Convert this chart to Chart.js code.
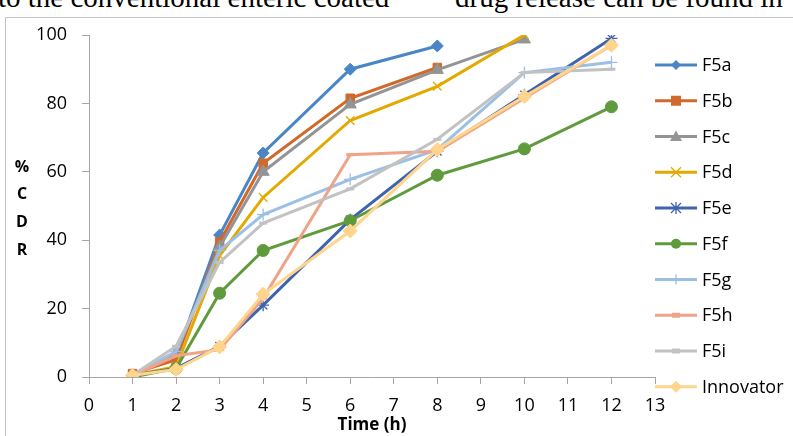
<!DOCTYPE html>
<html><head><meta charset="utf-8">
<script src="https://cdn.jsdelivr.net/npm/chart.js@4.4.1/dist/chart.umd.min.js"></script>
<style>
html,body{margin:0;padding:0;background:#fff;overflow:hidden;width:793px;height:436px;}
#wrap{position:relative;width:793px;height:436px;overflow:hidden;}
#frame{position:absolute;left:5px;top:17px;width:820px;height:460px;border:1px solid #c4c4c4;box-sizing:border-box;}
.t{position:absolute;top:-17px;font-family:"Liberation Serif","Times New Roman",serif;font-size:29px;line-height:29px;white-space:nowrap;color:#000;}
#c{position:absolute;left:0;top:0;}
</style></head>
<body><div id="wrap">
<div class="t" style="left:-2px">to the conventional enteric coated</div>
<div class="t" style="left:455px">drug release can be found in</div>
<div id="frame"></div>
<canvas id="c" width="793" height="436"></canvas>
</div>
<script>
const time = [1, 2, 3, 4, 6, 8, 10, 12];
const F5a = [0.5, 6, 41.5, 65.5, 90, 96.8, null, null];
const F5b = [1, 5, 39.5, 62.5, 81.5, 90.5, null, null];
const F5c = [0.5, 7, 38, 60, 79.7, 89.8, 98.7, null];
const F5d = [0.5, 3, 35.5, 52.5, 75, 85, 100, null];
const F5e = [0.5, 2.5, 9, 21, 46, 66, 82.5, 99];
const F5f = [0, 2.5, 24.5, 37, 45.7, 59, 66.7, 79];
const F5g = [0.5, 7.5, 37, 47.5, 57.8, 66.5, 89, 92];
const F5h = [0.5, 6.2, 8, 23, 65, 66, 81.5, 97];
const F5i = [0.5, 9, 33.5, 45, 55, 69.5, 89, 90];
const Innovator = [0.5, 2.2, 8.8, 24.2, 42.7, 66.5, 82, 97];
const seriesNames = ['F5a','F5b','F5c','F5d','F5e','F5f','F5g','F5h','F5i','Innovator'];
const seriesValues = [F5a,F5b,F5c,F5d,F5e,F5f,F5g,F5h,F5i,Innovator];
const xTicks = [0,1,2,3,4,5,6,7,8,9,10,11,12,13];
const yTicks = [0,20,40,60,80,100];
const yTitleLetters = ['%','C','D','R'];
const xTitle = 'Time (h)';

const styles = [
  {color:'#4A86C5', shape:'diamond', r:6},
  {color:'#D0692B', shape:'square', r:6},
  {color:'#949494', shape:'triangle', r:7},
  {color:'#E2A900', shape:'x', r:6},
  {color:'#3F63AD', shape:'star', r:6},
  {color:'#5F9A3D', shape:'circle', r:6},
  {color:'#9CBFE5', shape:'plus', r:6},
  {color:'#EFA487', shape:'dash', r:5},
  {color:'#C2C2C2', shape:'dash', r:5},
  {color:'#FFD48C', shape:'diamond', r:7}
];
const styleMap = {diamond:'rectRot', square:'rect', triangle:'triangle', x:'crossRot', star:'star', circle:'circle', plus:'cross', dash:'line'};

function drawMarker(ctx, shape, x, y, r, color){
  ctx.save();
  ctx.fillStyle = color; ctx.strokeStyle = color;
  ctx.beginPath();
  if (shape==='diamond'){ ctx.moveTo(x-r,y); ctx.lineTo(x,y-r); ctx.lineTo(x+r,y); ctx.lineTo(x,y+r); ctx.closePath(); ctx.fill(); }
  else if (shape==='square'){ ctx.rect(x-r,y-r,2*r,2*r); ctx.fill(); }
  else if (shape==='triangle'){ ctx.moveTo(x,y-r); ctx.lineTo(x+r,y+r*0.75); ctx.lineTo(x-r,y+r*0.75); ctx.closePath(); ctx.fill(); }
  else if (shape==='x'){ ctx.lineWidth=1.3; ctx.moveTo(x-r,y-r); ctx.lineTo(x+r,y+r); ctx.moveTo(x+r,y-r); ctx.lineTo(x-r,y+r); ctx.stroke(); }
  else if (shape==='star'){ ctx.lineWidth=1.3; ctx.moveTo(x-r,y-r); ctx.lineTo(x+r,y+r); ctx.moveTo(x+r,y-r); ctx.lineTo(x-r,y+r); ctx.moveTo(x,y-r*1.2); ctx.lineTo(x,y+r*1.2); ctx.stroke(); }
  else if (shape==='circle'){ ctx.arc(x,y,r,0,Math.PI*2); ctx.fill(); }
  else if (shape==='plus'){ ctx.lineWidth=1.3; ctx.moveTo(x,y-r); ctx.lineTo(x,y+r); ctx.stroke(); }
  else if (shape==='dash'){ ctx.lineWidth=5; ctx.moveTo(x-r,y); ctx.lineTo(x+r,y); ctx.stroke(); }
  ctx.restore();
}

const FONT = '"Open Sans", "Liberation Sans", sans-serif';
const datasets = seriesNames.map((n,i)=>{
  const pts = [];
  time.forEach((t,j)=>{ if (seriesValues[i][j] !== null) pts.push({x:t, y:seriesValues[i][j]}); });
  return {
    label:n,
    data: pts,
    borderColor: styles[i].color,
    backgroundColor: styles[i].color,
    borderWidth: 3,
    pointStyle: styleMap[styles[i].shape],
    pointRadius: styles[i].shape==='dash' ? 4 : styles[i].r,
    pointBorderWidth: (['x','star','plus'].includes(styles[i].shape)) ? 1.3 : (styles[i].shape==='dash' ? 3 : 1),
    pointBackgroundColor: styles[i].color,
    pointBorderColor: styles[i].color,
    pointHoverRadius: styles[i].r,
    tension: 0,
    order: 20 - i
  };
});

const legendPlugin = {
  id:'customLegend',
  afterDraw(chart){
    const ctx = chart.ctx;
    const x0 = 655, x1 = 697, tx = 702, y0 = 65, dy = 35.75;
    ctx.save();
    seriesNames.forEach((n,i)=>{
      const y = y0 + i*dy;
      ctx.strokeStyle = styles[i].color; ctx.lineWidth = 3;
      ctx.beginPath(); ctx.moveTo(x0,y); ctx.lineTo(x1,y); ctx.stroke();
      drawMarker(ctx, styles[i].shape, (x0+x1)/2, y, styles[i].shape==='dash'?4:styles[i].r-1, styles[i].color);
      ctx.fillStyle = '#000'; ctx.font = '18px ' + FONT; ctx.textBaseline = 'middle'; ctx.textAlign = 'left';
      ctx.fillText(n, tx, y+1);
    });
    ctx.font = 'bold 16px ' + FONT; ctx.textAlign = 'center'; ctx.fillStyle = '#000';
    yTitleLetters.forEach((l,i)=>{ ctx.fillText(l, 22, 167 + i*27.8); });
    ctx.restore();
  }
};

new Chart(document.getElementById('c'), {
  type:'line',
  data:{datasets},
  options:{
    responsive:false,
    animation:false,
    devicePixelRatio:1,
    layout:{padding:{left:0, top:35, right:138, bottom:0}},
    plugins:{legend:{display:false}, tooltip:{enabled:false}},
    scales:{
      x:{
        type:'linear', min:0, max:13,
        afterBuildTicks(s){ s.ticks = xTicks.map(v=>({value:v})); },
        afterFit(s){ s.height = 59; },
        ticks:{color:'#000', font:{family:FONT, size:18}, padding:11, autoSkip:false, maxRotation:0},
        grid:{display:true, drawOnChartArea:false, drawTicks:true, tickLength:7, color:'#a6a6a6', lineWidth:1},
        border:{display:true, color:'#a6a6a6', width:1},
        title:{display:true, text:xTitle, color:'#000', font:{family:FONT, size:17, weight:'bold'}, padding:{top:0,bottom:1}}
      },
      y:{
        min:0, max:100,
        afterBuildTicks(s){ s.ticks = yTicks.map(v=>({value:v})); },
        afterFit(s){ s.width = 89; },
        ticks:{color:'#000', font:{family:FONT, size:18}, padding:15},
        grid:{display:true, drawOnChartArea:false, drawTicks:true, tickLength:7, color:'#a6a6a6', lineWidth:1},
        border:{display:true, color:'#a6a6a6', width:1}
      }
    }
  },
  plugins:[legendPlugin]
});
</script>
</body></html>
